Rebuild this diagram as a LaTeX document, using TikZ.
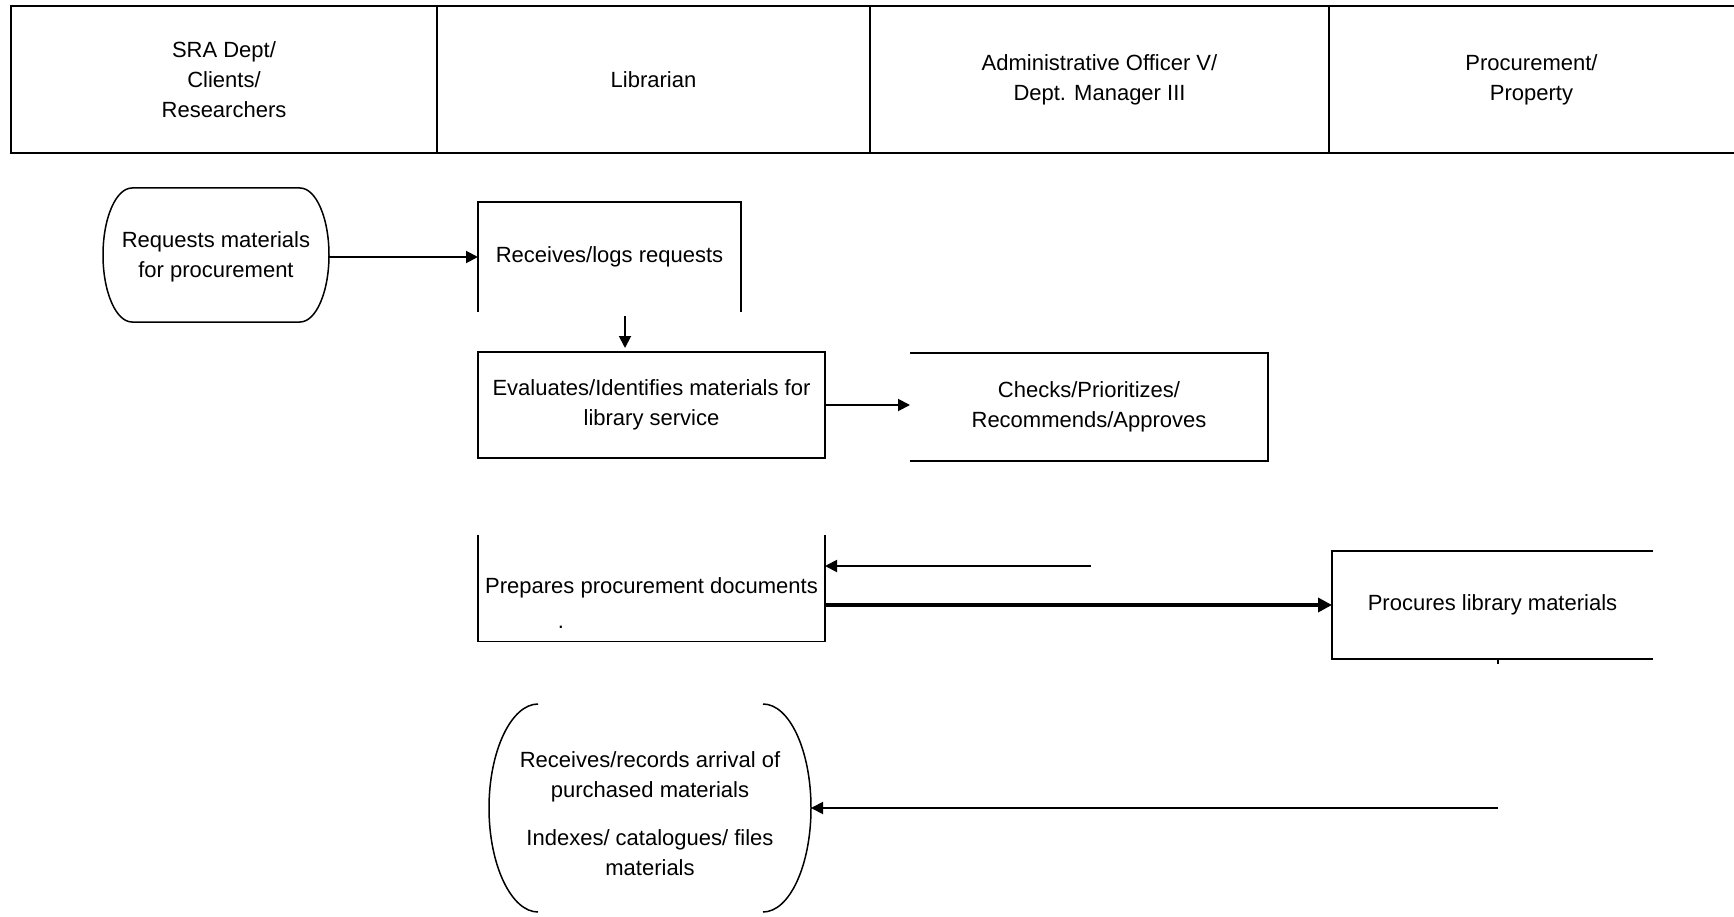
\documentclass[tikz,border=0pt]{standalone}
\usepackage{fontspec}
\setmainfont{Liberation Sans}
\usetikzlibrary{arrows.meta,calc}
\begin{document}
\begin{tikzpicture}[x=1pt,y=-1pt, line join=miter,
  every node/.style={font=\fontsize{22}{30}\selectfont, align=center, inner sep=0pt, outer sep=0pt},
  frame/.style={line width=1.9pt},
  hdr/.style={draw, line width=2.3pt, minimum height=147pt},
  arr/.style={line width=1.9pt, -{Triangle[length=12pt,width=12pt]}},
  thickarr/.style={line width=3.6pt, -{Triangle[length=14pt,width=14pt]}},
  curve/.style={line width=1.5pt}]

\useasboundingbox (0,0) rectangle (1734,917);

% header
\node[hdr, minimum width=426pt] (h1) at (224,79.5) {SRA Dept/\\Clients/\\Researchers};
\node[hdr, minimum width=433pt] (h2) at (653.5,79.5) {Librarian};
\node[hdr, minimum width=459pt] (h3) at (1099.5,79.5) {Administrative Officer V/\\Dept. Manager III};
\node[minimum width=405pt, minimum height=147pt] (h4) at (1531.5,79.5) {Procurement/\\Property};
\draw[line width=2.3pt] (h4.north west) -- ++(420,0);
\draw[line width=2.3pt] (h4.south west) -- ++(420,0);

% terminator: requests
\draw[curve] (132,188) -- (300,188) .. controls (316,188) and (329,218) .. (329,255)
  .. controls (329,292) and (316,322) .. (300,322) -- (132,322)
  .. controls (116,322) and (103,292) .. (103,255)
  .. controls (103,218) and (116,188) .. (132,188) -- cycle;
\node[minimum width=226pt, minimum height=134pt] (req) at (216,257) {Requests materials\\for procurement};

% receives/logs
\node[minimum width=263pt, minimum height=110pt] (recv) at (609.5,257) {Receives/logs requests};
\draw[frame] (recv.south west) -- (recv.north west) -- (recv.north east) -- (recv.south east);
\draw[arr] (req.east) -- (req.east -| recv.west);

% evaluates
\node[draw, frame, minimum width=347pt, minimum height=106pt] (eval) at (651.5,405) {Evaluates/Identifies materials for\\library service};
\draw[arr] ($(recv.south)+(15.5,4)$) -- ($(eval.north)+(-26.5,-4)$);

% checks
\node[minimum width=358pt, minimum height=108pt] (chk) at (1089,407) {Checks/Prioritizes/\\Recommends/Approves};
\draw[frame] (chk.north west) -- (chk.north east) -- (chk.south east) -- (chk.south west);
\draw[arr] (eval.east) -- (eval.east -| chk.west);

% prepares
\node[minimum width=347pt, minimum height=107pt] (prep) at (651.5,588) {Prepares procurement documents};
\draw[frame] (prep.north west) -- (prep.south west) -- (prep.south east) -- (prep.north east);
\node (dot) at (561,627) {.};

% procures
\node[minimum width=321pt, minimum height=108pt] (proc) at (1492.5,605) {Procures library materials};
\draw[frame] (proc.north east) -- (proc.north west) -- (proc.south west) -- (proc.south east);

\coordinate (cf) at (1091,566);
\draw[arr] (cf) -- (cf -| prep.east);
\draw[thickarr] (prep.east |- proc.west) -- (proc.west);

% receives/records arrival
\draw[curve] (538,704) .. controls (511.5,704) and (489,750.6) .. (489,808)
  .. controls (489,865.4) and (511.5,912) .. (538,912);
\draw[curve] (763,704) .. controls (789.5,704) and (811,750.6) .. (811,808)
  .. controls (811,865.4) and (789.5,912) .. (763,912);
\node[minimum width=322pt, minimum height=208pt] (arrv) at (650,814) {Receives/records arrival of\\purchased materials\\[18pt]Indexes/ catalogues/ files\\materials};

\coordinate (pf) at (1498,808);
\draw[arr] (pf) -- (pf -| arrv.east);
\draw[frame] (proc.south -| pf) -- ++(0,5);

\end{tikzpicture}
\end{document}
